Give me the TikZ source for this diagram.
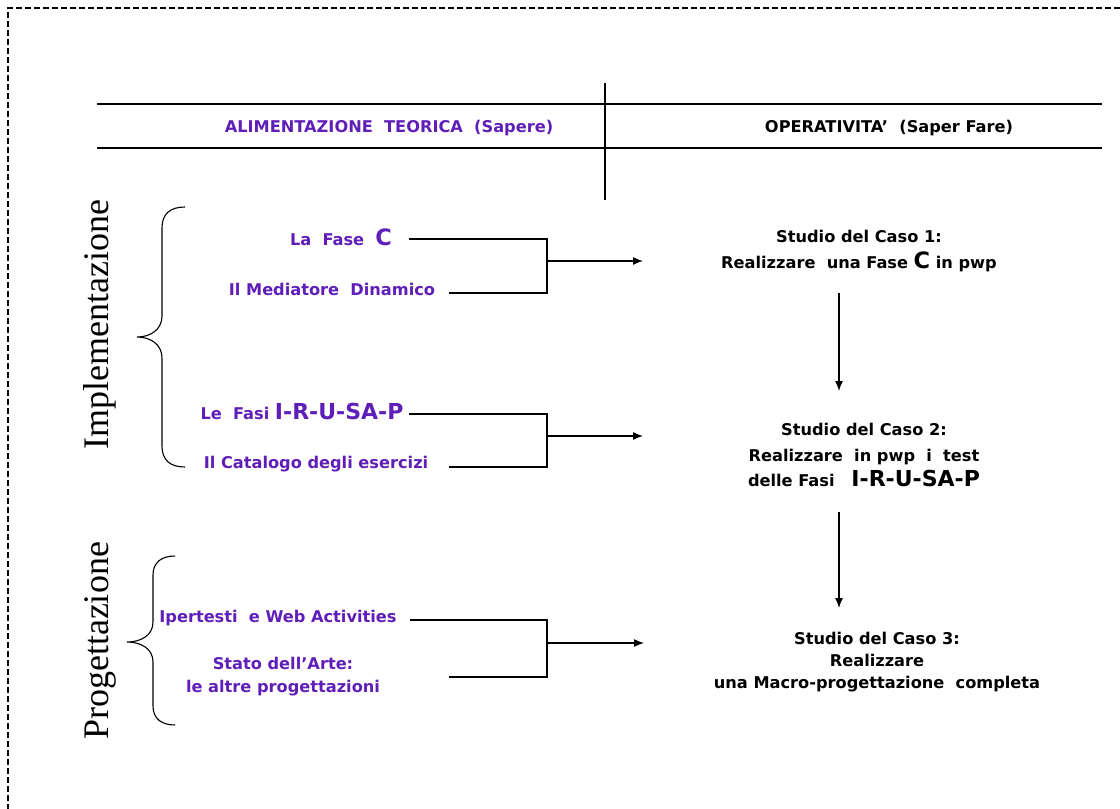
\documentclass[tikz,border=0pt]{standalone}
\usepackage{fontspec}
\setmainfont{DejaVu Sans}
\newfontfamily\serifside{Liberation Serif}
\usetikzlibrary{arrows.meta}
\definecolor{vio}{RGB}{96,30,185}
\newcommand\BigLetterC{{\fontsize{22.5}{22.5}\selectfont C}}
\newcommand\IRUSAP{{\fontsize{22}{22}\selectfont I-R-U-SA-P}}
\begin{document}
\begin{tikzpicture}[x=1pt,y=-1pt,
  lbl/.style={font=\fontsize{16.2}{19}\selectfont\bfseries, inner sep=0pt, align=center},
  vlbl/.style={lbl, text=vio},
  side/.style={font=\serifside\fontsize{36}{40}\selectfont, rotate=90, inner sep=0pt},
  conn/.style={line width=1.3pt},
  arr/.style={conn,-{Latex[length=10pt,width=8pt]}},
  rulel/.style={line width=2.6pt},
  brace/.style={line width=1.1pt},
  border/.style={line width=1.8pt, dash pattern=on 6pt off 3pt}]
\useasboundingbox (0,0) rectangle (1120,809);

% border
\draw[border] (1120,8) -- (8,8) -- (8,809);

% header
\draw[rulel] (97,104) -- (1102,104);
\draw[rulel] (97,148) -- (1102,148);
\draw[line width=1.6pt] (605,83) -- (605,200);
\node[vlbl] (h1) at (389,128) {ALIMENTAZIONE\ \ TEORICA\ \ (Sapere)};
\node[lbl] (h2) at (889,128) {OPERATIVITA’\ \ (Saper Fare)};

% side labels
\node[side] (impl) at (100,325) {Implementazione};
\node[side] (prog) at (100,641) {Progettazione};

% braces
\draw[brace] (185,207) .. controls (170,207) and (162,214) .. (162,228) -- (162,316)
  .. controls (162,330) and (150,337) .. (137,337)
  .. controls (150,337) and (162,344) .. (162,358) -- (162,446)
  .. controls (162,460) and (170,467) .. (185,467);
\draw[brace] (175,556) .. controls (162,556) and (153,562) .. (153,575) -- (153,622)
  .. controls (153,636) and (140,642) .. (127,642)
  .. controls (140,642) and (153,648) .. (153,662) -- (153,706)
  .. controls (153,719) and (162,725) .. (175,725);

% left items
\node[vlbl] (fasec) at (341,237) {La\ \ Fase\ \ \BigLetterC};
\node[vlbl] (med) at (332,289) {Il Mediatore\ \ Dinamico};
\node[vlbl] (fasi) at (302,411) {Le\ \ Fasi \IRUSAP};
\node[vlbl] (cat) at (316,464) {Il Catalogo degli esercizi};
\node[vlbl] (iper) at (278,618) {Ipertesti\ \ e Web Activities};
\node[vlbl, font=\fontsize{16.2}{23}\selectfont\bfseries] (stato) at (283,677) {Stato dell’Arte:\\le altre progettazioni};

% right items
\node[lbl, font=\fontsize{16.2}{26}\selectfont\bfseries] (c1) at (859,251) {Studio del Caso 1:\\Realizzare\ \ una Fase \BigLetterC\ in pwp};
\node[lbl, font=\fontsize{16.2}{25.5}\selectfont\bfseries] (c2) at (864,455) {Studio del Caso 2:\\Realizzare\ \ in pwp\ \ i\ \ test\\delle Fasi\ \ \ \IRUSAP};
\node[lbl, font=\fontsize{16.2}{22}\selectfont\bfseries] (c3) at (877,662) {Studio del Caso 3:\\Realizzare\\una Macro-progettazione\ \ completa};

% connectors
\coordinate (a1) at (409,239); \coordinate (b1) at (449,293);
\coordinate (k1) at (547,261); \coordinate (e1) at (643,261);
\coordinate (a2) at (409,414); \coordinate (b2) at (449,467);
\coordinate (k2) at (547,436); \coordinate (e2) at (643,436);
\coordinate (a3) at (410,620); \coordinate (b3) at (449,677);
\coordinate (k3) at (547,643); \coordinate (e3) at (644,643);

\draw[conn] (a1) -- (a1 -| k1) -- (b1 -| k1) -- (b1);
\draw[arr] (k1) -- (e1);
\draw[conn] (a2) -- (a2 -| k2) -- (b2 -| k2) -- (b2);
\draw[arr] (k2) -- (e2);
\draw[conn] (a3) -- (a3 -| k3) -- (b3 -| k3) -- (b3);
\draw[arr] (k3) -- (e3);

\coordinate (v1s) at (839,293); \coordinate (v1e) at (839,391);
\coordinate (v2s) at (839,512); \coordinate (v2e) at (839,608);
\draw[arr] (v1s) -- (v1e);
\draw[arr] (v2s) -- (v2e);
\end{tikzpicture}
\end{document}
